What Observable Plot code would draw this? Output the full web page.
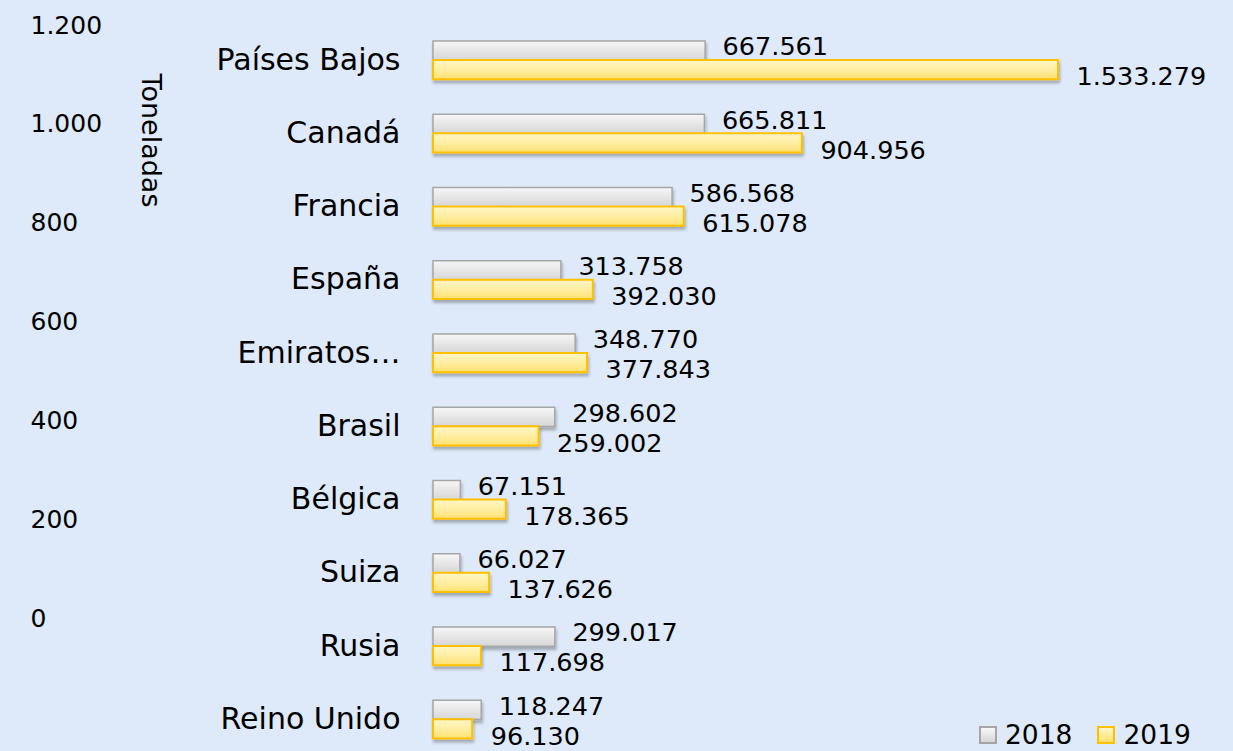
<!DOCTYPE html>
<html><head><meta charset="utf-8">
<script src="https://cdn.jsdelivr.net/npm/d3@7"></script>
<script src="https://cdn.jsdelivr.net/npm/@observablehq/plot@0.6"></script>
<style>
html,body{margin:0;padding:0;background:#dee9f9;}
#wrap{position:relative;width:1233px;height:751px;background:#dee9f9;font-family:"DejaVu Sans",sans-serif;overflow:hidden;}
#wrap svg{position:absolute;left:0;top:0;}
#legend{position:absolute;left:979px;top:719px;font-size:26.5px;display:flex;align-items:center;color:#000;}
#legend .sw{display:inline-block;width:14px;height:14px;margin-right:8px;}
#legend .item{display:flex;align-items:center;margin-right:25px;}
</style></head><body><div id="wrap"></div><script>
const countries = ["Países Bajos","Canadá","Francia","España","Emiratos Árabes Unidos","Brasil","Bélgica","Suiza","Rusia","Reino Unido"];
const years = ["2018","2019"];
const v2018 = [667561, 665811, 586568, 313758, 348770, 298602, 67151, 66027, 299017, 118247];
const v2019 = [1533279, 904956, 615078, 392030, 377843, 259002, 178365, 137626, 117698, 96130];
const tonTicks = [0, 200, 400, 600, 800, 1000, 1200];
const axisTitle = "Toneladas";

const loc = d3.formatLocale({decimal: ",", thousands: ".", grouping: [3], currency: ["", ""]});
const fmt = loc.format(",d");
const rows2018 = countries.map((c, i) => ({country: c, year: years[0], value: v2018[i]}));
const rows2019 = countries.map((c, i) => ({country: c, year: years[1], value: v2019[i]}));
const FONT = '"DejaVu Sans", sans-serif';

const main = Plot.plot({
  width: 1233, height: 751,
  marginLeft: 433, marginRight: 175, marginTop: 22, marginBottom: 0,
  style: {background: "transparent", fontFamily: FONT, overflow: "visible", color: "#000"},
  x: {domain: [0, d3.max(v2019)], axis: null},
  y: {domain: countries, padding: 0, round: false, range: [23, 755.5], axis: null},
  marks: [
    Plot.axisY({tickSize: 0, tickPadding: 33, fontSize: 30, fill: "#000",
      tickFormat: d => d.length > 14 ? d.split(" ")[0] + "…" : d}),
    Plot.ruleX([0], {stroke: "#c4c9d2", strokeWidth: 2, y1: countries[0], y2: countries[countries.length - 1], insetTop: -37, insetBottom: -40}),
    Plot.barX(rows2018, {x: "value", y: "country", insetTop: 18, insetBottom: 36, fill: "url(#g2018)", stroke: "#a6a6a6", strokeWidth: 1.5}),
    Plot.barX(rows2019, {x: "value", y: "country", insetTop: 37, insetBottom: 17, fill: "url(#g2019)", stroke: "#ffc000", strokeWidth: 2}),
    Plot.text(rows2018, {x: "value", y: "country", text: d => fmt(d.value), dx: 17, dy: -13, textAnchor: "start", fontSize: 25.5, fill: "#000"}),
    Plot.text(rows2019, {x: "value", y: "country", text: d => fmt(d.value), dx: 18, dy: 17, textAnchor: "start", fontSize: 25.5, fill: "#000"})
  ]
});

// gradients and shadow
const defs = d3.select(main).insert("defs", ":first-child");
const g1 = defs.append("linearGradient").attr("id", "g2018").attr("x1", 0).attr("y1", 0).attr("x2", 0).attr("y2", 1);
g1.append("stop").attr("offset", "0%").attr("stop-color", "#f7f7f7");
g1.append("stop").attr("offset", "100%").attr("stop-color", "#d6d6d6");
const g2 = defs.append("linearGradient").attr("id", "g2019").attr("x1", 0).attr("y1", 0).attr("x2", 0).attr("y2", 1);
g2.append("stop").attr("offset", "0%").attr("stop-color", "#fff6c8");
g2.append("stop").attr("offset", "60%").attr("stop-color", "#ffec9a");
g2.append("stop").attr("offset", "100%").attr("stop-color", "#ffe070");
const f = defs.append("filter").attr("id", "shadow").attr("x", "-5%").attr("y", "-30%").attr("width", "110%").attr("height", "180%");
f.append("feDropShadow").attr("dx", 1).attr("dy", 3).attr("stdDeviation", 1.5).attr("flood-color", "#000").attr("flood-opacity", 0.28);
d3.select(main).selectAll('g[aria-label="bar"]').attr("filter", "url(#shadow)");

// stray secondary vertical axis ("Toneladas")
const over = Plot.plot({
  width: 1233, height: 751,
  marginLeft: 0, marginRight: 0, marginTop: 25, marginBottom: 133,
  style: {background: "transparent", fontFamily: FONT, overflow: "visible"},
  x: {axis: null},
  y: {domain: [0, 1200], axis: null},
  marks: [
    Plot.text(tonTicks, {y: d => d, text: d => fmt(d), frameAnchor: "left", dx: 30, textAnchor: "start", fontSize: 25, fill: "#000"}),
    Plot.text([axisTitle], {frameAnchor: "top-left", dx: 150, dy: 115, rotate: 90, textAnchor: "middle", lineAnchor: "middle", fontSize: 27, fill: "#000"})
  ]
});

const wrap = document.getElementById("wrap");
wrap.appendChild(main);
wrap.appendChild(over);

const legend = document.createElement("div");
legend.id = "legend";
legend.innerHTML = `
  <span class="item"><span class="sw" style="background:linear-gradient(#f7f7f7,#d6d6d6);border:2px solid #a6a6a6"></span>${years[0]}</span>
  <span class="item"><span class="sw" style="background:linear-gradient(#fff6c8,#ffe070);border:2px solid #ffc000"></span>${years[1]}</span>`;
wrap.appendChild(legend);
</script></body></html>
